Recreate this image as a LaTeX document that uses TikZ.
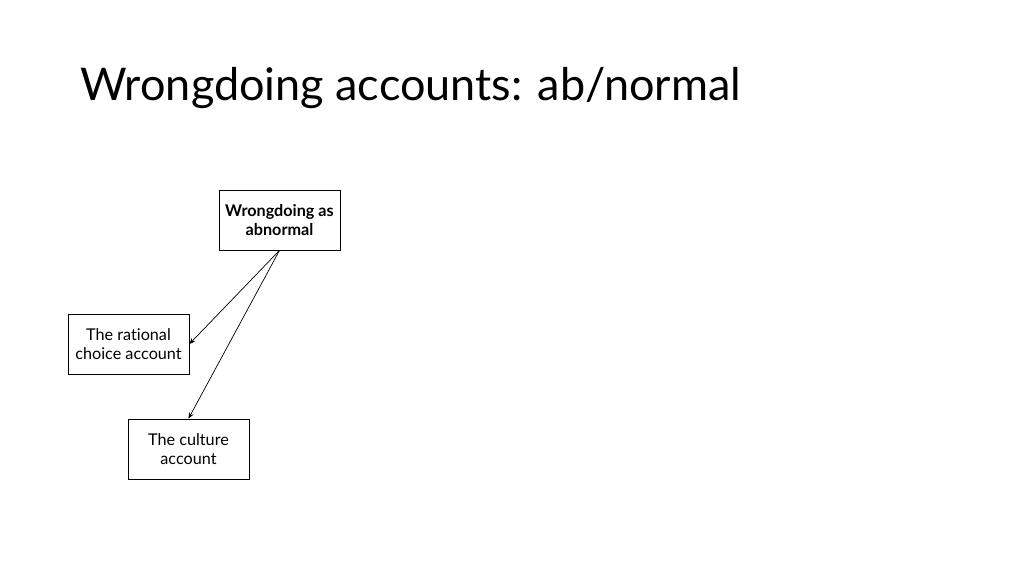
\documentclass[tikz,border=0pt]{standalone}
\usepackage{fontspec}
\setmainfont{Lato}[Ligatures={NoCommon,NoRare,NoContextual}]
\usetikzlibrary{arrows.meta}
\begin{document}
\begin{tikzpicture}[x=1pt,y=-1pt,
  box/.style={draw=black,line width=0.8pt,minimum width=121pt,minimum height=60pt,align=center,font=\fontsize{16.2}{19}\selectfont,inner sep=0pt},
  conn/.style={-{Stealth[length=6pt,width=5pt]},line width=0.7pt}]
\useasboundingbox (0,0) rectangle (1024,576);
\node[anchor=base west,font=\fontsize{45}{52}\selectfont,inner sep=0pt] (title) at (80,100) {Wrongdoing accounts: ab/normal};
\node[box,font=\bfseries\fontsize{16.2}{19}\selectfont] (top) at (279.5,220) {Wrongdoing as\\abnormal};
\node[box] (rc) at (128.5,344) {The rational\\choice account};
\node[box] (cu) at (188.5,449) {The culture\\account};
\draw[conn] (top.south) -- (rc.east);
\draw[conn] (top.south) -- (cu.north);
\end{tikzpicture}
\end{document}
